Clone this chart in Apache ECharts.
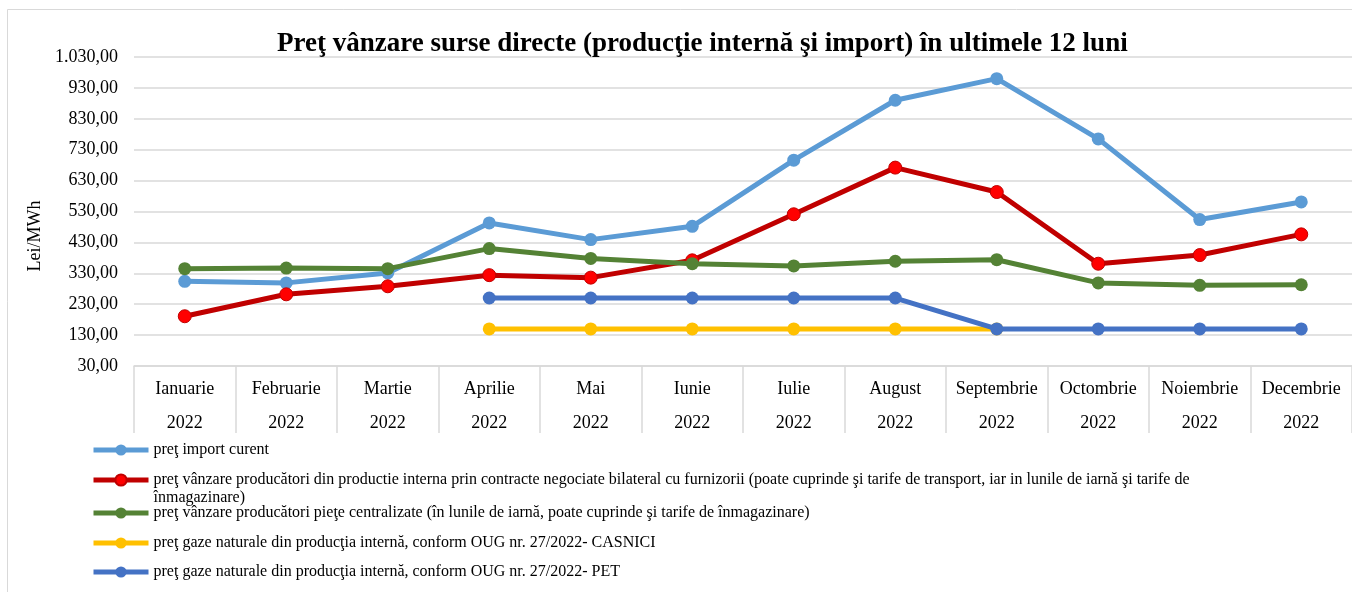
<!DOCTYPE html>
<html>
<head>
<meta charset="utf-8">
<script src="https://cdn.jsdelivr.net/npm/echarts@6/dist/echarts.min.js"></script>
<style>html,body{margin:0;padding:0;background:#fff}#c{width:1352px;height:592px}</style>
</head>
<body>
<div id="c"></div>
<script>
const months = ['Ianuarie','Februarie','Martie','Aprilie','Mai','Iunie','Iulie','August','Septembrie','Octombrie','Noiembrie','Decembrie'];
const years = ['2022','2022','2022','2022','2022','2022','2022','2022','2022','2022','2022','2022'];
const seriesNames = [
  'preţ import curent',
  'preţ vânzare producători din productie interna prin contracte negociate bilateral cu furnizorii (poate cuprinde şi tarife de transport, iar in lunile de iarnă şi tarife de înmagazinare)',
  'preţ vânzare producători pieţe centralizate (în lunile de iarnă, poate cuprinde şi tarife de înmagazinare)',
  'preţ gaze naturale din producţia internă, conform OUG nr. 27/2022- CASNICI',
  'preţ gaze naturale din producţia internă, conform OUG nr. 27/2022- PET'
];
const importCurent = [304, 299, 331, 493, 439, 482, 696, 890, 960, 765, 504, 561];
const bilateral = [191, 262, 288, 324, 316, 372, 521, 672, 593, 361, 389, 456];
const centralizate = [345, 347, 345, 410, 378, 361, 354, 369, 374, 299, 291, 293];
const casnici = [null, null, null, 150, 150, 150, 150, 150, 150, null, null, null];
const pet = [null, null, null, 250, 250, 250, 250, 250, 150, 150, 150, 150];
const yTicks = {min: 30, max: 1030, interval: 100};

const FONT = 'Liberation Serif';
const colors = ['#5B9BD5', '#C00000', '#548235', '#FFC000', '#4472C4'];
const markerFill = ['#5B9BD5', '#FF0000', '#548235', '#FFC000', '#4472C4'];
const dataSets = [importCurent, bilateral, centralizate, casnici, pet];

function fmt(v) {
  const parts = v.toFixed(2).split('.');
  const intPart = parts[0].replace(/\B(?=(\d{3})+(?!\d))/g, '.');
  return intPart + ',' + parts[1];
}

const legendTops = [436, 448, 499, 529, 558];
const legends = seriesNames.map((n, i) => ({
  data: [n],
  left: 86,
  top: legendTops[i],
  orient: 'vertical',
  itemWidth: 55,
  itemHeight: 14,
  selectedMode: false,
  lineStyle: {width: 5},
  formatter: i === 1 ? (name => '\n' + name.replace(' înmagazinare)', '\nînmagazinare)')) : undefined,
  textStyle: {fontFamily: FONT, fontSize: 16, color: '#000', lineHeight: 18}
}));

const series = seriesNames.map((n, i) => ({
  name: n,
  type: 'line',
  data: dataSets[i],
  symbol: 'circle',
  symbolSize: 13,
  lineStyle: {color: colors[i], width: 5},
  itemStyle: {color: markerFill[i], borderColor: colors[i], borderWidth: i === 1 ? 1 : 0},
  emphasis: {disabled: true},
  animation: false,
  z: 2 + i
}));

const chart = echarts.init(document.getElementById('c'));
chart.setOption({
  animation: false,
  backgroundColor: '#fff',
  title: {
    text: 'Preţ vânzare surse directe (producţie internă şi import) în ultimele 12 luni',
    left: 272, top: 26,
    textStyle: {fontFamily: FONT, fontSize: 27, fontWeight: 'bold', color: '#000'}
  },
  legend: legends,
  grid: {left: 134, top: 57, width: 1220, height: 309},
  xAxis: {
    type: 'category',
    data: months,
    boundaryGap: true,
    axisLine: {lineStyle: {color: '#D9D9D9', width: 1.5}},
    axisTick: {show: true, length: 67, interval: 0, lineStyle: {color: '#D9D9D9', width: 1.5}},
    axisLabel: {
      interval: 0, margin: 6,
      fontFamily: FONT, fontSize: 18, color: '#000', lineHeight: 34,
      formatter: (v, idx) => v + '\n' + years[idx]
    }
  },
  yAxis: {
    type: 'value',
    min: yTicks.min, max: yTicks.max, interval: yTicks.interval,
    axisLine: {show: false},
    axisTick: {show: false},
    splitLine: {lineStyle: {color: '#D9D9D9', width: 1.5}},
    axisLabel: {fontFamily: FONT, fontSize: 18, color: '#000', margin: 16, formatter: v => fmt(v)}
  },
  graphic: [
    {type: 'rect', shape: {x: 7.5, y: 9.5, width: 1360, height: 600}, style: {fill: 'none', stroke: '#D9D9D9', lineWidth: 1}, silent: true, z: -1},
    {type: 'text', x: 35, y: 236, rotation: Math.PI / 2, style: {text: 'Lei/MWh', fontFamily: FONT, fontSize: 18, fill: '#000', align: 'center', verticalAlign: 'middle'}}
  ],
  series: series
});
</script>
</body>
</html>
